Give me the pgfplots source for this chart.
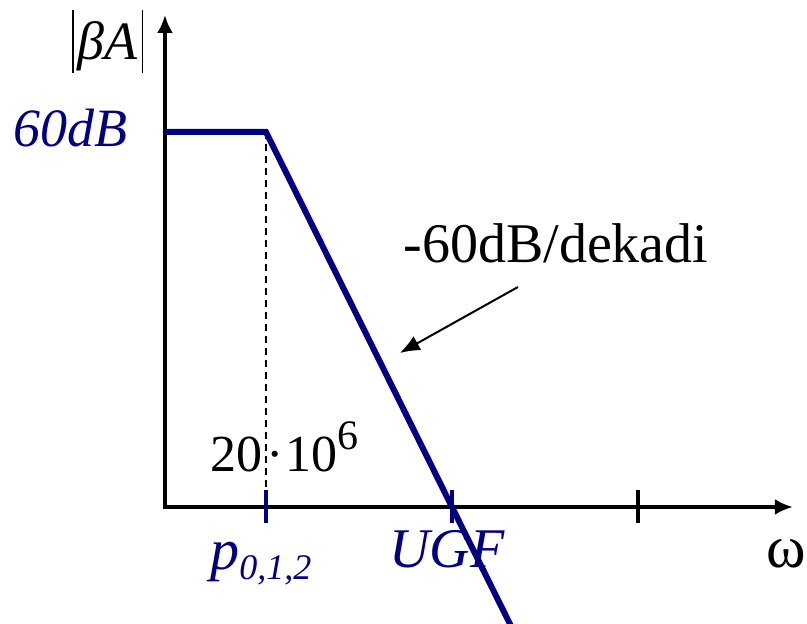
\documentclass[border=0pt]{standalone}
\usepackage{pgfplots}
\pgfplotsset{compat=1.18}
\usepackage{fontspec}
\setmainfont{Liberation Serif}
\usetikzlibrary{arrows.meta}
\definecolor{navy}{RGB}{0,0,128}

\begin{document}
\begin{tikzpicture}
\begin{axis}[
  hide axis, scale only axis, clip=false,
  width=403.5pt, height=312pt,
  xmin=5.870, xmax=10.209,
  ymin=-18.72, ymax=81.12,
]
% axes with arrows
\draw[line width=1.75pt, line join=miter,
      {Latex[length=9pt,width=8pt]}-{Latex[length=9pt,width=8pt]}]
  (axis cs:6.757,78.72) -- (axis cs:6.757,0) -- (axis cs:10.133,0);
% ticks
\draw[navy, line width=1.75pt] (axis cs:7.3,-2.64) -- (axis cs:7.3,2.64);
\draw[navy, line width=1.75pt] (axis cs:8.3,-2.64) -- (axis cs:8.3,2.64);
\draw[black, line width=1.75pt] (axis cs:9.3,-2.64) -- (axis cs:9.3,2.64);
% pole marker
\draw[line width=0.7pt, dash pattern=on 3.5pt off 2.5pt] (axis cs:7.3,60) -- (axis cs:7.3,2.64);
% loop gain asymptote
\addplot[navy, line width=3pt, line join=miter] coordinates {
  (6.757,60) (7.3,60) (8.3,0) (8.66,-21.6)
};
% labels
\node[anchor=center, inner sep=0pt, font=\fontsize{27}{30}\selectfont] at (axis cs:6.450,74.4)
  {\rule[-7pt]{0.8pt}{31.5pt}\hspace{2pt}\itshape βA\hspace{2pt}\rule[-7pt]{0.8pt}{31.5pt}};
\node[anchor=base east, navy, inner sep=0pt, font=\fontsize{27}{30}\selectfont\itshape]
  at (axis cs:6.558,57.6) {60dB};
\node[anchor=base west, inner sep=0pt, font=\fontsize{28}{30}\selectfont]
  at (axis cs:8.037,39.04) {-60dB/dekadi};
\draw[line width=1pt, -{Latex[length=10pt,width=8pt]}]
  (axis cs:8.655,35.2) -- (axis cs:8.020,24.64);
\node[anchor=base west, inner sep=0pt, font=\fontsize{26}{28}\selectfont]
  at (axis cs:6.999,5.6) {20\hspace{2pt}·\hspace{1pt}10\raisebox{11pt}{\fontsize{21}{21}\selectfont 6}};
\node[anchor=base west, inner sep=0pt, navy, font=\fontsize{29}{30}\selectfont\itshape]
  at (axis cs:6.999,-10.08) {p\raisebox{-5pt}{\fontsize{18}{18}\selectfont 0,1,2}};
\node[anchor=base, inner sep=0pt, navy, font=\fontsize{28}{30}\selectfont\itshape]
  at (axis cs:8.273,-9.76) {UGF};
\node[anchor=base, inner sep=0pt, font=\fontsize{30}{30}\selectfont]
  at (axis cs:10.096,-9.76) {ω};
\end{axis}
\pgfresetboundingbox
\path[use as bounding box] (current axis.south west) rectangle (current axis.north east);
\end{tikzpicture}
\end{document}
